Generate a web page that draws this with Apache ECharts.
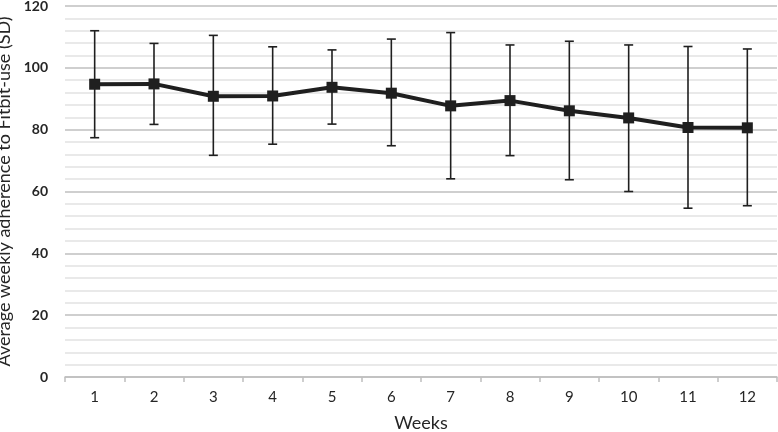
<!DOCTYPE html>
<html>
<head>
<meta charset="utf-8">
<script src="https://cdn.jsdelivr.net/npm/echarts@6/dist/echarts.min.js"></script>
<style>html,body{margin:0;padding:0;background:#fff}#c{width:778px;height:432px}</style>
</head>
<body>
<div id="c"></div>
<script>
const weeks = ['1','2','3','4','5','6','7','8','9','10','11','12'];
const meanAdherence = [94.7, 94.8, 90.8, 90.9, 93.7, 91.8, 87.7, 89.4, 86.1, 83.8, 80.7, 80.6];
const upperSD = [112.0, 107.9, 110.5, 106.8, 105.8, 109.3, 111.4, 107.4, 108.6, 107.4, 106.9, 106.1];
const lowerSD = [77.4, 81.7, 71.7, 75.3, 81.8, 74.8, 64.1, 71.6, 63.8, 60.0, 54.6, 55.4];

const errData = weeks.map((w, i) => [i, lowerSD[i], upperSD[i]]);

const chart = echarts.init(document.getElementById('c'), null, {renderer: 'canvas'});
chart.setOption({
  animation: false,
  grid: {left: 65, right: 1, top: 6, bottom: 55, containLabel: false, outerBoundsMode: 'none'},
  xAxis: {
    type: 'category',
    data: weeks,
    boundaryGap: true,
    name: 'Weeks',
    nameLocation: 'middle',
    nameGap: 37,
    nameTextStyle: {fontFamily: 'Lato', fontSize: 18, color: '#262626'},
    axisLine: {lineStyle: {color: '#bfbfbf', width: 1.5}},
    axisTick: {show: true, length: 5, lineStyle: {color: '#bfbfbf', width: 1.5}},
    axisLabel: {fontFamily: 'Lato', fontSize: 15, color: '#262626', margin: 13}
  },
  yAxis: {
    type: 'value',
    min: 0, max: 120, interval: 20,
    name: 'Average weekly adherence to Fitbit-use (SD)',
    nameLocation: 'middle',
    nameGap: 43,
    nameTextStyle: {fontFamily: 'Lato', fontSize: 18, color: '#262626'},
    axisLine: {show: false},
    axisTick: {show: false},
    axisLabel: {fontFamily: 'Lato', fontWeight: 'bold', fontSize: 14, color: '#262626', margin: 17},
    splitLine: {lineStyle: {color: '#bfbfbf', width: 1.5}},
    minorTick: {show: false, splitNumber: 5},
    minorSplitLine: {show: true, lineStyle: {color: '#e2e2e2', width: 1.5}}
  },
  series: [
    {
      type: 'custom',
      data: errData,
      z: 3,
      renderItem: function (params, api) {
        const x = api.value(0);
        const lo = api.coord([x, api.value(1)]);
        const hi = api.coord([x, api.value(2)]);
        const hw = 4.5;
        const st = {stroke: '#1f1f1f', lineWidth: 1.6};
        return {
          type: 'group',
          children: [
            {type: 'line', shape: {x1: hi[0], y1: hi[1], x2: lo[0], y2: lo[1]}, style: st},
            {type: 'line', shape: {x1: hi[0]-hw, y1: hi[1], x2: hi[0]+hw, y2: hi[1]}, style: st},
            {type: 'line', shape: {x1: lo[0]-hw, y1: lo[1], x2: lo[0]+hw, y2: lo[1]}, style: st}
          ]
        };
      }
    },
    {
      type: 'line',
      data: meanAdherence,
      z: 4,
      symbol: 'rect',
      symbolSize: 11,
      lineStyle: {color: '#1f1f1f', width: 4},
      itemStyle: {color: '#1f1f1f'}
    }
  ]
});
</script>
</body>
</html>
